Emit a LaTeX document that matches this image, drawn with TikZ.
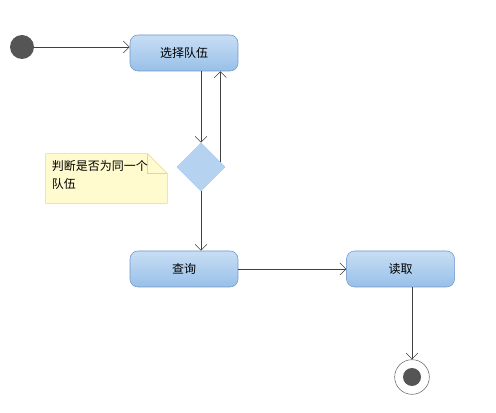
\documentclass[tikz,border=0pt]{standalone}
\usepackage{fontspec}
\setmainfont{Noto Sans CJK SC}
\usepackage{tikz}
\usetikzlibrary{arrows.meta, positioning, shapes.geometric, calc}
\definecolor{boxtop}{RGB}{200,222,245}
\definecolor{boxbot}{RGB}{152,192,232}
\definecolor{boxline}{RGB}{110,150,200}
\definecolor{notefill}{RGB}{255,251,206}
\definecolor{noteline}{RGB}{225,215,150}
\definecolor{dotgray}{RGB}{85,85,85}

\begin{document}
\begin{tikzpicture}[
  x=0.75pt, y=-0.75pt,
  node distance=81pt,
  act/.style={rectangle, draw=boxline, rounded corners=6pt,
              top color=boxtop, bottom color=boxbot,
              minimum width=81pt, minimum height=27pt, align=center,
              font=\fontsize{9}{11}\selectfont},
  decision/.style={diamond, fill=boxtop!60!boxbot, draw=boxtop!40!boxbot,
              minimum width=36pt, minimum height=36pt, inner sep=0pt},
  arrow/.style={-{Straight Barb[length=4.5pt, width=9pt]}, black!75}
]
\useasboundingbox (0,0) rectangle (496,413);

\node[circle, fill=dotgray, minimum size=18pt, inner sep=0pt] (start) at (22,47) {};
\node[act] (sel) at (184,53) {选择队伍};
\node[decision] (dia) at (201,167) {};
\node[act] (qry) at (184,269) {查询};
\node[act, right=of qry] (read) {读取};

% end state
\node[circle, draw=black!60, fill=white, minimum size=26pt, inner sep=0pt] (end) at (412,377) {};
\node[circle, fill=dotgray, minimum size=13.5pt, inner sep=0pt] at (end) {};

% note
\node[minimum width=91pt, minimum height=37pt, inner sep=0pt] (note) at (106.5,178.5) {};
\filldraw[fill=notefill, draw=noteline]
  (note.north west) -- ($(note.north east)+(-20,0)$) -- ($(note.north east)+(0,20)$)
  -- (note.south east) -- (note.south west) -- cycle;
\draw[noteline] ($(note.north east)+(-20,0)$) -- ($(note.north east)+(-20,20)$) -- ($(note.north east)+(0,20)$);
\node[anchor=north west, align=left, inner sep=0pt, font=\fontsize{9}{13.5}\selectfont]
  (notetxt) at ($(note.north west)+(6,7)$) {判断是否为同一个\\队伍};

\draw[arrow] (start.east) -- (sel.west |- start.east);
\draw[arrow] (dia.north |- sel.south) -- (dia.north);
\coordinate (back) at ($(dia.east)+(-5,-5)$);
\draw[arrow] (back) -- (back |- sel.south);
\draw[arrow] (dia.south) -- (dia.south |- qry.north);
\draw[arrow] (qry.east) -- (read.west);
\draw[arrow] (end.north |- read.south) -- (end.north);

\end{tikzpicture}
\end{document}
